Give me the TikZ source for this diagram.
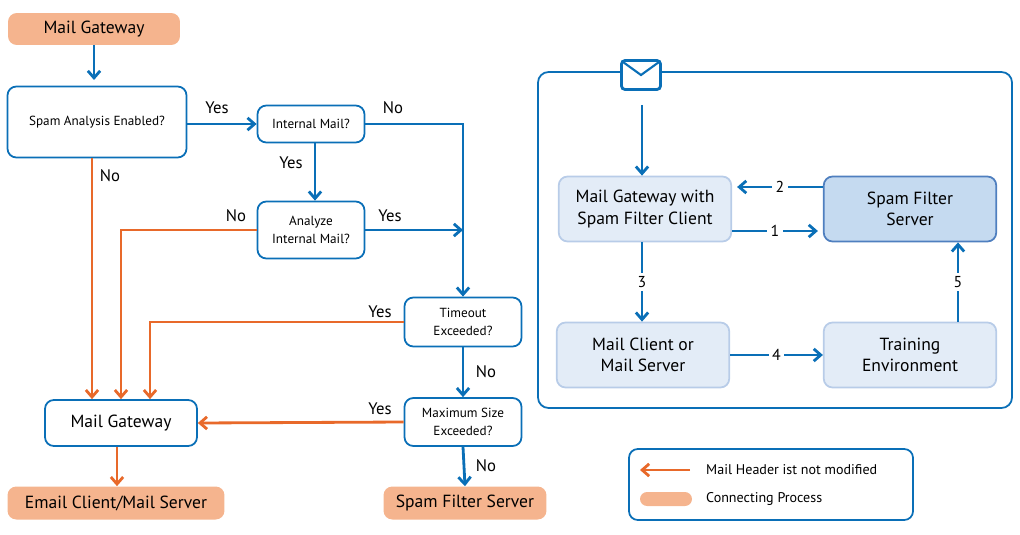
\documentclass[tikz,border=0pt]{standalone}
\usepackage{fontspec}
\setmainfont{PT Sans}
\usetikzlibrary{positioning}
\usetikzlibrary{arrows.meta}
\usetikzlibrary{calc}
\definecolor{flowblue}{HTML}{0A6FB7}
\definecolor{floworange}{HTML}{E8692A}
\definecolor{procfill}{HTML}{F5B48E}
\definecolor{lightfill}{HTML}{E3ECF7}
\definecolor{lightline}{HTML}{B8CCE8}
\definecolor{darkfill}{HTML}{C5DAF0}
\definecolor{darkline}{HTML}{4F7FBF}

\begin{document}
\begin{tikzpicture}[
    x=0.02cm, y=-0.02cm,
    proc/.style = {fill=procfill, rounded corners=5pt, font=\fontsize{10}{12}\selectfont},
    test/.style = {draw=flowblue, line width=1pt, rounded corners=5pt, fill=white,
        align=center, font=\fontsize{7.5}{10}\selectfont},
    unit/.style = {draw=lightline, fill=lightfill, line width=1pt, rounded corners=5pt,
        align=center, minimum width=3.45cm, minimum height=1.3cm,
        font=\fontsize{10}{12}\selectfont},
    yes/.style = {draw=flowblue, line width=1.6pt, -{Straight Barb[length=4pt,width=7pt]}},
    no/.style = {draw=floworange, line width=1.6pt, -{Straight Barb[length=4pt,width=7pt]}},
    lbl/.style = {font=\fontsize{9.5}{11}\selectfont},
    num/.style = {fill=white, inner sep=2pt, font=\fontsize{9}{11}\selectfont}
]
\useasboundingbox (0,0) rectangle (1020,534);

% left flow chart
\node[proc, minimum width=3.44cm, minimum height=0.64cm] (gw) at (94,29) {Mail Gateway};
\node[test, minimum width=3.58cm, minimum height=1.42cm] (spam) at (97,122) {Spam Analysis Enabled?};
\node[test, minimum width=2.14cm, minimum height=0.74cm] (internal) at (311,124) {Internal Mail?};
\node[test, minimum width=2.14cm, minimum height=1.14cm] (analyze) at (311,230) {Analyze\\Internal Mail?};
\node[test, minimum width=2.34cm, minimum height=0.98cm] (timeout) at (463,322) {Timeout\\Exceeded?};
\node[test, minimum width=2.34cm, minimum height=0.96cm] (maxsize) at (463,422) {Maximum Size\\Exceeded?};
\node[test, minimum width=3.04cm, minimum height=0.92cm, font=\fontsize{10}{12}\selectfont] (mgw) at (121,423) {Mail Gateway};
\node[proc, minimum width=4.34cm, minimum height=0.66cm] (email) at (116,503) {Email Client/Mail Server};
\node[proc, minimum width=3.26cm, minimum height=0.66cm] (sfs) at (465,503) {Spam Filter Server};

\coordinate (join) at (463,230);
\draw[yes] (gw.south -| 94,0) -- (94,80);
\draw[yes] (spam.east |- internal) -- (internal.west);
\draw[yes] (internal.east) -| (timeout.north);
\draw[yes] (internal.south -| 315,0) -- (analyze.north -| 315,0);
\draw[yes] (analyze.east) -- (join);
\draw[no] (analyze.west) -| (mgw.north);
\draw[no] (spam.south -| 92,0) -- (mgw.north -| 92,0);
\draw[no] (timeout.west) -| (mgw.north -| 150,0);
\draw[yes] (timeout.south) -- (maxsize.north);
\draw[no] (maxsize.west) -- (mgw.east);
\draw[yes] (maxsize.south) -- (sfs.north);
\draw[no] (mgw.south -| 117,0) -- (email.north -| 117,0);

\node[lbl] at (217,108) {Yes};
\node[lbl] at (393,108) {No};
\node[lbl] at (291,163) {Yes};
\node[lbl] at (390,216) {Yes};
\node[lbl] at (236,216) {No};
\node[lbl] at (110,176) {No};
\node[lbl] at (380,312) {Yes};
\node[lbl] at (486,372) {No};
\node[lbl] at (380,409) {Yes};
\node[lbl] at (486,466) {No};

% right panel
\draw[flowblue, line width=1pt, rounded corners=6pt] (538,72) rectangle (1012,408);
\node[draw=flowblue, fill=white, line width=1.6pt, rounded corners=2pt,
    minimum width=0.78cm, minimum height=0.58cm] (letter) at (641,75) {};
\draw[flowblue, line width=1.2pt] ($(letter.north west)+(3,3)$) -- (letter.center) -- ($(letter.north east)+(-3,3)$);
\node[unit] (client) at (645,209) {Mail Gateway with\\Spam Filter Client};
\node[unit, fill=darkfill, draw=darkline] (server) at (910,209) {Spam Filter\\Server};
\node[unit] (mcs) at (643,355) {Mail Client or\\Mail Server};
\node[unit] (train) at (910,355) {Training\\Environment};

\draw[yes] ($(letter.south -| 642,0)+(0,14)$) -- (client.north -| 642,0);
\draw[yes] (server.west |- 0,187) -- node[num] {2} ($(client.east |- 0,187)+(5,0)$);
\draw[yes] (client.east |- 0,231) -- node[num] {1} ($(server.west |- 0,231)+(-5,0)$);
\draw[yes] (client.south -| 642,0) -- node[num] {3} (mcs.north -| 642,0);
\draw[yes] (mcs.east) -- node[num] {4} (train.west);
\draw[yes] (train.north -| 958,0) -- node[num] {5} (server.south -| 958,0);

% legend
\draw[flowblue, line width=1pt, rounded corners=5pt] (629,449) rectangle (913,520);
\coordinate (legA) at (690,470);
\coordinate (legB) at (640,470);
\draw[no] (legA) -- (legB);
\node[anchor=west, font=\fontsize{8}{10}\selectfont] at (700,470) {Mail Header ist not modified};
\node[fill=procfill, rounded corners=4pt, minimum width=1.04cm, minimum height=0.28cm, inner sep=0pt] (legP) at (666,499) {};
\node[anchor=west, font=\fontsize{8}{10}\selectfont] at (700,499) {Connecting Process};
\end{tikzpicture}
\end{document}
